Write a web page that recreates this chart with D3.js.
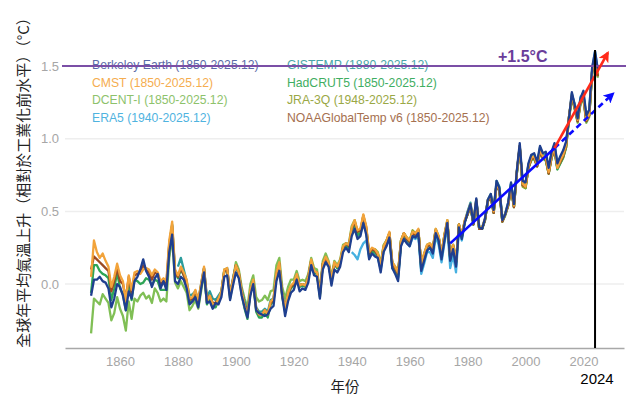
<!DOCTYPE html>
<html>
<head>
<meta charset="utf-8">
<script src="https://cdn.jsdelivr.net/npm/d3@7"></script>
<style>
	body { margin: 0; background: #fff; }
	svg { display: block; }
</style>
</head>
<body>
<div id="vis-proper"></div>
<script>
// datasets, first year of each series and the yearly anomalies (°C vs 1850-1900)
const datasetNames = ["Berkeley Earth (1850-2025.12)", "CMST (1850-2025.12)", "DCENT-I (1850-2025.12)", "ERA5 (1940-2025.12)",
	"GISTEMP (1880-2025.12)", "HadCRUT5 (1850-2025.12)", "JRA-3Q (1948-2025.12)", "NOAAGlobalTemp v6 (1850-2025.12)"];
const startYears = [1850, 1850, 1850, 1940, 1880, 1850, 1948, 1850];

const berkeley = [
	-0.08, 0.03, 0.03, 0.05, 0.02, 0.01, -0.03, -0.16, -0.10, 0.00,
	-0.02, -0.08, -0.18, -0.05, -0.10, 0.02, 0.05, 0.10, 0.17, 0.09,
	0.05, -0.02, 0.04, 0.07, -0.03, 0.02, -0.04, 0.22, 0.34, 0.02,
	0.00, 0.05, 0.03, -0.03, -0.14, -0.12, -0.09, -0.16, -0.03, 0.08,
	-0.13, -0.12, -0.17, -0.13, -0.14, -0.09, 0.05, 0.06, -0.11, -0.01,
	0.08, 0.04, -0.08, -0.16, -0.23, -0.08, 0.00, -0.18, -0.20, -0.21,
	-0.22, -0.21, -0.17, -0.15, 0.02, 0.09, -0.08, -0.22, -0.12, -0.06,
	-0.04, 0.03, -0.05, -0.03, -0.04, 0.01, 0.13, 0.06, 0.05, -0.10,
	0.10, 0.15, 0.12, -0.01, 0.10, 0.08, 0.12, 0.22, 0.25, 0.22,
	0.33, 0.38, 0.31, 0.33, 0.42, 0.34, 0.17, 0.21, 0.19, 0.18,
	0.08, 0.22, 0.26, 0.32, 0.11, 0.07, 0.02, 0.26, 0.31, 0.28,
	0.26, 0.33, 0.32, 0.35, 0.09, 0.16, 0.23, 0.25, 0.21, 0.35,
	0.30, 0.17, 0.30, 0.42, 0.16, 0.24, 0.12, 0.39, 0.31, 0.42,
	0.49, 0.55, 0.42, 0.59, 0.39, 0.38, 0.45, 0.58, 0.62, 0.51,
	0.71, 0.66, 0.44, 0.48, 0.56, 0.70, 0.55, 0.78, 0.97, 0.71,
	0.70, 0.83, 0.89, 0.90, 0.84, 0.95, 0.90, 0.91, 0.80, 0.91,
	0.97, 0.83, 0.88, 0.92, 0.98, 1.14, 1.32, 1.23, 1.14, 1.28,
	1.33, 1.16, 1.20, 1.49, 1.60, 1.47
];
const cmst = [
	0.05, 0.30, 0.22, 0.18, 0.21, 0.16, 0.12, -0.02, 0.05, 0.14,
	0.06, 0.02, -0.12, 0.06, -0.04, 0.08, 0.09, 0.07, 0.10, 0.11,
	0.10, 0.06, 0.10, 0.08, 0.02, 0.04, 0.02, 0.30, 0.43, 0.10,
	0.06, 0.12, 0.08, 0.03, -0.10, -0.09, -0.04, -0.11, 0.00, 0.12,
	-0.12, -0.08, -0.14, -0.14, -0.10, -0.05, 0.10, 0.11, -0.08, 0.03,
	0.13, 0.08, -0.05, -0.15, -0.21, -0.04, 0.03, -0.17, -0.21, -0.21,
	-0.18, -0.21, -0.12, -0.10, 0.08, 0.15, -0.07, -0.17, -0.06, -0.01,
	0.01, 0.07, -0.01, 0.00, -0.01, 0.05, 0.17, 0.09, 0.08, -0.07,
	0.14, 0.19, 0.15, 0.03, 0.15, 0.12, 0.16, 0.26, 0.28, 0.27,
	0.39, 0.44, 0.37, 0.38, 0.48, 0.40, 0.22, 0.25, 0.24, 0.21,
	0.13, 0.26, 0.30, 0.36, 0.15, 0.12, 0.08, 0.30, 0.35, 0.32,
	0.30, 0.36, 0.35, 0.38, 0.14, 0.21, 0.27, 0.28, 0.25, 0.38,
	0.33, 0.21, 0.34, 0.44, 0.19, 0.27, 0.16, 0.41, 0.34, 0.44,
	0.49, 0.55, 0.42, 0.58, 0.39, 0.39, 0.45, 0.58, 0.61, 0.50,
	0.69, 0.65, 0.44, 0.48, 0.55, 0.67, 0.54, 0.77, 0.95, 0.69,
	0.67, 0.81, 0.87, 0.88, 0.82, 0.92, 0.88, 0.87, 0.77, 0.88,
	0.94, 0.80, 0.85, 0.89, 0.96, 1.15, 1.30, 1.22, 1.13, 1.26,
	1.29, 1.13, 1.17, 1.47, 1.56, 1.45
];
const dcent = [
	-0.34, -0.10, -0.12, -0.14, -0.07, -0.10, -0.13, -0.25, -0.20, -0.09,
	-0.17, -0.22, -0.32, -0.12, -0.24, -0.10, -0.12, -0.08, -0.06, -0.10,
	-0.08, -0.13, -0.03, -0.06, -0.12, -0.10, -0.12, 0.18, 0.32, 0.01,
	-0.03, 0.02, -0.02, -0.06, -0.18, -0.15, -0.11, -0.17, -0.05, 0.07,
	-0.13, -0.09, -0.14, -0.13, -0.09, -0.05, 0.10, 0.10, -0.07, 0.03,
	0.15, 0.10, -0.02, -0.10, -0.16, 0.00, 0.06, -0.09, -0.12, -0.11,
	-0.08, -0.11, -0.05, -0.04, 0.13, 0.18, -0.02, -0.10, -0.02, 0.03,
	0.03, 0.09, 0.02, 0.03, 0.02, 0.07, 0.18, 0.11, 0.10, -0.05,
	0.16, 0.21, 0.16, 0.05, 0.16, 0.13, 0.17, 0.27, 0.28, 0.28,
	0.40, 0.44, 0.36, 0.36, 0.47, 0.38, 0.22, 0.24, 0.24, 0.22,
	0.14, 0.27, 0.30, 0.35, 0.15, 0.12, 0.08, 0.30, 0.35, 0.32,
	0.30, 0.36, 0.34, 0.37, 0.13, 0.20, 0.26, 0.27, 0.24, 0.37,
	0.32, 0.20, 0.33, 0.43, 0.18, 0.27, 0.15, 0.41, 0.33, 0.43,
	0.48, 0.54, 0.41, 0.56, 0.38, 0.38, 0.44, 0.57, 0.60, 0.49,
	0.69, 0.64, 0.43, 0.47, 0.54, 0.66, 0.53, 0.76, 0.94, 0.68,
	0.66, 0.80, 0.85, 0.86, 0.81, 0.90, 0.86, 0.85, 0.76, 0.87,
	0.92, 0.79, 0.83, 0.87, 0.94, 1.14, 1.28, 1.20, 1.11, 1.24,
	1.27, 1.11, 1.15, 1.45, 1.53, 1.42
];
const era5 = [
	0.22, 0.20, 0.17, 0.24, 0.28, 0.30, 0.18, 0.22, 0.21, 0.18,
	0.10, 0.23, 0.27, 0.33, 0.11, 0.08, 0.04, 0.27, 0.32, 0.29,
	0.26, 0.32, 0.31, 0.33, 0.07, 0.14, 0.22, 0.22, 0.18, 0.33,
	0.27, 0.15, 0.28, 0.39, 0.11, 0.20, 0.08, 0.37, 0.30, 0.42,
	0.49, 0.53, 0.41, 0.58, 0.39, 0.38, 0.45, 0.58, 0.61, 0.51,
	0.69, 0.65, 0.44, 0.49, 0.56, 0.69, 0.56, 0.76, 0.94, 0.70,
	0.69, 0.82, 0.87, 0.88, 0.82, 0.93, 0.88, 0.88, 0.79, 0.90,
	0.95, 0.82, 0.87, 0.91, 0.96, 1.14, 1.30, 1.24, 1.15, 1.29,
	1.30, 1.16, 1.20, 1.48, 1.60, 1.47
];
const gistemp = [
	0.12, 0.18, 0.10, 0.02, -0.08, -0.07, -0.05, -0.12, 0.00, 0.11,
	-0.09, -0.05, -0.10, -0.11, -0.08, -0.05, 0.09, 0.11, -0.07, 0.04,
	0.13, 0.07, -0.04, -0.12, -0.20, -0.05, 0.02, -0.16, -0.19, -0.19,
	-0.17, -0.19, -0.11, -0.10, 0.08, 0.13, -0.06, -0.16, -0.06, -0.02,
	0.00, 0.07, -0.01, 0.00, -0.01, 0.04, 0.15, 0.08, 0.07, -0.07,
	0.13, 0.18, 0.14, 0.02, 0.14, 0.11, 0.15, 0.24, 0.26, 0.24,
	0.36, 0.42, 0.33, 0.34, 0.45, 0.36, 0.20, 0.22, 0.20, 0.19,
	0.11, 0.23, 0.28, 0.34, 0.11, 0.09, 0.05, 0.28, 0.33, 0.30,
	0.28, 0.34, 0.33, 0.35, 0.10, 0.17, 0.24, 0.25, 0.22, 0.35,
	0.30, 0.19, 0.31, 0.42, 0.17, 0.25, 0.13, 0.40, 0.32, 0.43,
	0.50, 0.56, 0.42, 0.58, 0.40, 0.38, 0.44, 0.58, 0.62, 0.50,
	0.71, 0.67, 0.44, 0.48, 0.55, 0.69, 0.55, 0.77, 0.94, 0.70,
	0.68, 0.82, 0.88, 0.89, 0.82, 0.94, 0.89, 0.89, 0.79, 0.90,
	0.96, 0.82, 0.86, 0.90, 0.97, 1.14, 1.31, 1.23, 1.15, 1.27,
	1.30, 1.15, 1.18, 1.47, 1.58, 1.46
];
const hadcrut = [
	-0.06, 0.13, 0.13, 0.09, 0.07, 0.06, 0.04, -0.11, -0.03, 0.08,
	-0.03, -0.07, -0.18, 0.02, -0.11, 0.03, 0.02, 0.00, 0.01, 0.04,
	0.03, -0.01, 0.03, 0.02, -0.04, -0.04, -0.04, 0.27, 0.41, 0.08,
	0.04, 0.10, 0.06, 0.00, -0.13, -0.11, -0.06, -0.14, -0.02, 0.10,
	-0.14, -0.10, -0.16, -0.16, -0.11, -0.07, 0.09, 0.09, -0.10, 0.01,
	0.13, 0.07, -0.07, -0.17, -0.24, -0.06, 0.01, -0.19, -0.23, -0.23,
	-0.20, -0.23, -0.14, -0.12, 0.07, 0.14, -0.09, -0.19, -0.08, -0.03,
	-0.01, 0.06, -0.02, -0.01, -0.02, 0.04, 0.16, 0.08, 0.07, -0.09,
	0.14, 0.19, 0.14, 0.02, 0.14, 0.11, 0.15, 0.25, 0.26, 0.25,
	0.37, 0.42, 0.34, 0.35, 0.46, 0.37, 0.20, 0.23, 0.22, 0.20,
	0.12, 0.25, 0.29, 0.34, 0.13, 0.10, 0.06, 0.29, 0.34, 0.31,
	0.29, 0.36, 0.34, 0.37, 0.12, 0.20, 0.26, 0.27, 0.24, 0.37,
	0.32, 0.20, 0.33, 0.43, 0.18, 0.27, 0.15, 0.41, 0.33, 0.43,
	0.48, 0.54, 0.41, 0.57, 0.38, 0.38, 0.44, 0.57, 0.60, 0.49,
	0.69, 0.65, 0.43, 0.48, 0.54, 0.66, 0.53, 0.77, 0.95, 0.68,
	0.66, 0.80, 0.86, 0.87, 0.81, 0.91, 0.87, 0.85, 0.76, 0.87,
	0.92, 0.79, 0.83, 0.87, 0.94, 1.15, 1.29, 1.21, 1.12, 1.25,
	1.28, 1.12, 1.16, 1.46, 1.55, 1.44
];
const jra3q = [
	0.24, 0.21,
	0.14, 0.26, 0.30, 0.35, 0.14, 0.11, 0.07, 0.30, 0.35, 0.32,
	0.30, 0.37, 0.35, 0.37, 0.13, 0.21, 0.27, 0.28, 0.25, 0.38,
	0.33, 0.21, 0.34, 0.44, 0.19, 0.27, 0.15, 0.41, 0.33, 0.43,
	0.48, 0.54, 0.42, 0.57, 0.38, 0.39, 0.44, 0.57, 0.60, 0.49,
	0.68, 0.64, 0.43, 0.48, 0.54, 0.67, 0.53, 0.76, 0.94, 0.67,
	0.66, 0.80, 0.86, 0.87, 0.81, 0.91, 0.87, 0.86, 0.76, 0.88,
	0.93, 0.80, 0.84, 0.88, 0.94, 1.13, 1.29, 1.21, 1.12, 1.26,
	1.29, 1.13, 1.16, 1.46, 1.57, 1.43
];
const noaa = [
	0.10, 0.19, 0.17, 0.15, 0.13, 0.11, 0.09, -0.05, 0.02, 0.11,
	0.02, 0.00, -0.10, 0.05, -0.06, 0.06, 0.07, 0.09, 0.13, 0.10,
	0.08, 0.03, 0.08, 0.07, 0.00, 0.02, 0.00, 0.28, 0.40, 0.08,
	0.05, 0.11, 0.06, 0.01, -0.11, -0.10, -0.05, -0.12, -0.01, 0.11,
	-0.11, -0.08, -0.13, -0.13, -0.10, -0.06, 0.09, 0.10, -0.08, 0.03,
	0.13, 0.08, -0.05, -0.14, -0.21, -0.05, 0.02, -0.17, -0.21, -0.21,
	-0.18, -0.21, -0.13, -0.11, 0.07, 0.14, -0.08, -0.17, -0.07, -0.02,
	0.00, 0.06, -0.01, 0.00, -0.01, 0.05, 0.16, 0.09, 0.08, -0.07,
	0.14, 0.18, 0.14, 0.03, 0.14, 0.12, 0.15, 0.25, 0.28, 0.26,
	0.38, 0.43, 0.36, 0.37, 0.47, 0.39, 0.21, 0.24, 0.23, 0.20,
	0.12, 0.25, 0.29, 0.35, 0.14, 0.11, 0.07, 0.29, 0.35, 0.31,
	0.29, 0.35, 0.34, 0.37, 0.13, 0.20, 0.26, 0.27, 0.24, 0.37,
	0.32, 0.20, 0.33, 0.43, 0.18, 0.26, 0.15, 0.41, 0.33, 0.43,
	0.48, 0.54, 0.41, 0.57, 0.38, 0.38, 0.44, 0.57, 0.60, 0.49,
	0.69, 0.64, 0.43, 0.48, 0.54, 0.66, 0.53, 0.77, 0.95, 0.68,
	0.67, 0.80, 0.86, 0.87, 0.81, 0.91, 0.87, 0.86, 0.76, 0.87,
	0.93, 0.80, 0.84, 0.88, 0.95, 1.15, 1.29, 1.21, 1.12, 1.25,
	1.28, 1.12, 1.16, 1.46, 1.55, 1.43
];
const seriesValues = [berkeley, cmst, dcent, era5, gistemp, hadcrut, jra3q, noaa];

const lineColors = ["#1f3f8f", "#f2a33a", "#80bf55", "#45b0e0", "#2b9c9c", "#2ea556", "#8ea62c", "#9c4a22"];
const legendColors = ["#5b6ba8", "#f5ad4f", "#8dc26b", "#4fb3df", "#4aa6a8", "#3fae62", "#9aa845", "#a5704f"];
// drawing order, Berkeley Earth last so it sits on top
const drawOrder = [2, 3, 4, 5, 6, 7, 1, 0];

const yTicks = [0.0, 0.5, 1.0, 1.5];
const xTicks = [1860, 1880, 1900, 1920, 1940, 1960, 1980, 2000, 2020];

// trend arrows: long-term (blue), its extension (dashed) and recent (red)
const trendLongYears = [1974, 2010];
const trendLongValues = [0.28, 0.935];
const trendExtYears = [2010, 2030.2];
const trendExtValues = [0.935, 1.31];
const trendRecentYears = [2010, 2028.4];
const trendRecentValues = [0.935, 1.59];

const markYear = 2024;
const limitValue = 1.5;

const main = () => {
	draw();
};

const draw = () => {
	const visProper = d3.select("#vis-proper");
	visProper.selectAll("*").remove();
	const W = 640;
	const H = 398;
	const svg = visProper.append("svg").attr("width", W).attr("height", H);

	const x = d3.scaleLinear().domain([1841, 2034]).range([65, 624]);
	const y = d3.scaleLinear().domain([-0.44, 1.85]).range([348, 15.2]);

	const defs = svg.append("defs");
	const addArrow = (id, color) => {
		defs.append("marker")
			.attr("id", id)
			.attr("viewBox", "0 0 10 10")
			.attr("refX", 8)
			.attr("refY", 5)
			.attr("markerWidth", 11)
			.attr("markerHeight", 11)
			.attr("markerUnits", "userSpaceOnUse")
			.attr("orient", "auto")
			.append("path")
			.attr("d", "M0,0 L10,5 L0,10 L2.5,5 Z")
			.attr("fill", color);
	};
	addArrow("arrow-red", "#ff2a1a");
	addArrow("arrow-blue", "#0a0aff");

	// gridlines
	svg.append("g")
		.selectAll("line")
		.data(yTicks.slice(0, 3))
		.join("line")
		.attr("x1", x(1841))
		.attr("x2", x(2034))
		.attr("y1", (d) => y(d))
		.attr("y2", (d) => y(d))
		.attr("stroke", "#eeeeee")
		.attr("stroke-width", 1.5);

	// y axis labels
	const yAxis = d3.axisLeft(y).tickValues(yTicks).tickFormat(d3.format(".1f")).tickSize(0).tickPadding(6);
	const gy = svg.append("g").attr("transform", `translate(${x(1841)},0)`).call(yAxis);
	gy.select(".domain").remove();
	gy.selectAll("text")
		.attr("fill", "#a6a6a6")
		.style("font-family", "'Liberation Sans', Arial, sans-serif")
		.style("font-size", "13px");

	// x axis
	const xAxis = d3.axisBottom(x).tickValues(xTicks).tickFormat(d3.format("d")).tickSize(0).tickPadding(9);
	const gx = svg.append("g").attr("transform", `translate(0,${y(-0.44)})`).call(xAxis);
	gx.select(".domain").attr("stroke", "#a8a8a8").attr("stroke-width", 1.5);
	gx.selectAll("text")
		.attr("fill", "#a6a6a6")
		.style("font-family", "'Liberation Sans', Arial, sans-serif")
		.style("font-size", "13px");

	// legend, two columns of four
	const legend = svg.append("g").style("font-family", "'Liberation Sans', Arial, sans-serif").style("font-size", "12.2px");
	datasetNames.forEach((name, i) => {
		legend.append("text")
			.attr("x", i < 4 ? 92 : 287)
			.attr("y", 65 + (i % 4) * 17.5)
			.attr("dy", "0.35em")
			.attr("fill", legendColors[i])
			.text(name);
	});

	// series
	const line = d3.line()
		.x((d) => x(d[0]))
		.y((d) => y(d[1]));
	const linesGroup = svg.append("g").attr("fill", "none");
	drawOrder.forEach((i) => {
		const pts = seriesValues[i].map((v, k) => [startYears[i] + k, v]);
		linesGroup.append("path")
			.attr("d", line(pts))
			.attr("stroke", lineColors[i])
			.attr("stroke-width", 2.3)
			.attr("stroke-linejoin", "round");
	});

	// +1.5 line
	svg.append("line")
		.attr("x1", 62)
		.attr("x2", 626)
		.attr("y1", y(limitValue))
		.attr("y2", y(limitValue))
		.attr("stroke", "#7b4fa6")
		.attr("stroke-width", 2);
	svg.append("text")
		.attr("x", 498)
		.attr("y", y(limitValue) - 4.5)
		.attr("fill", "#6a3d9a")
		.style("font-family", "'Liberation Sans', Arial, sans-serif")
		.style("font-weight", "bold")
		.style("font-size", "16px")
		.text("+1.5°C");

	// trends
	const trendLine = (years, values) => line(years.map((yr, k) => [yr, values[k]]));
	svg.append("path")
		.attr("d", trendLine(trendLongYears, trendLongValues))
		.attr("stroke", "#0a0aff")
		.attr("stroke-width", 2.6)
		.attr("fill", "none");
	svg.append("path")
		.attr("d", trendLine(trendExtYears, trendExtValues))
		.attr("stroke", "#0a0aff")
		.attr("stroke-width", 2.6)
		.attr("stroke-dasharray", "6,4")
		.attr("fill", "none")
		.attr("marker-end", "url(#arrow-blue)");
	svg.append("path")
		.attr("d", trendLine(trendRecentYears, trendRecentValues))
		.attr("stroke", "#ff2a1a")
		.attr("stroke-width", 2.6)
		.attr("fill", "none")
		.attr("marker-end", "url(#arrow-red)");

	// 2024 marker
	svg.append("line")
		.attr("x1", x(markYear))
		.attr("x2", x(markYear))
		.attr("y1", y(1.61))
		.attr("y2", y(-0.44))
		.attr("stroke", "#000")
		.attr("stroke-width", 2);
	svg.append("text")
		.attr("x", x(markYear) + 2)
		.attr("y", 384)
		.attr("text-anchor", "middle")
		.attr("fill", "#000")
		.style("font-family", "'Liberation Sans', Arial, sans-serif")
		.style("font-size", "15px")
		.text(String(markYear));

	// axis titles
	svg.append("text")
		.attr("x", 345)
		.attr("y", 392)
		.attr("text-anchor", "middle")
		.attr("fill", "#222")
		.style("font-family", "'Noto Sans CJK TC', sans-serif")
		.style("font-size", "14.5px")
		.text("年份");
	svg.append("text")
		.attr("transform", "translate(29,179) rotate(-90)")
		.attr("text-anchor", "middle")
		.attr("fill", "#222")
		.style("font-family", "'Noto Sans CJK TC', sans-serif")
		.style("font-size", "15px")
		.text("全球年平均氣溫上升（相對於工業化前水平）（°C）");
};

main();
</script>
</body>
</html>
